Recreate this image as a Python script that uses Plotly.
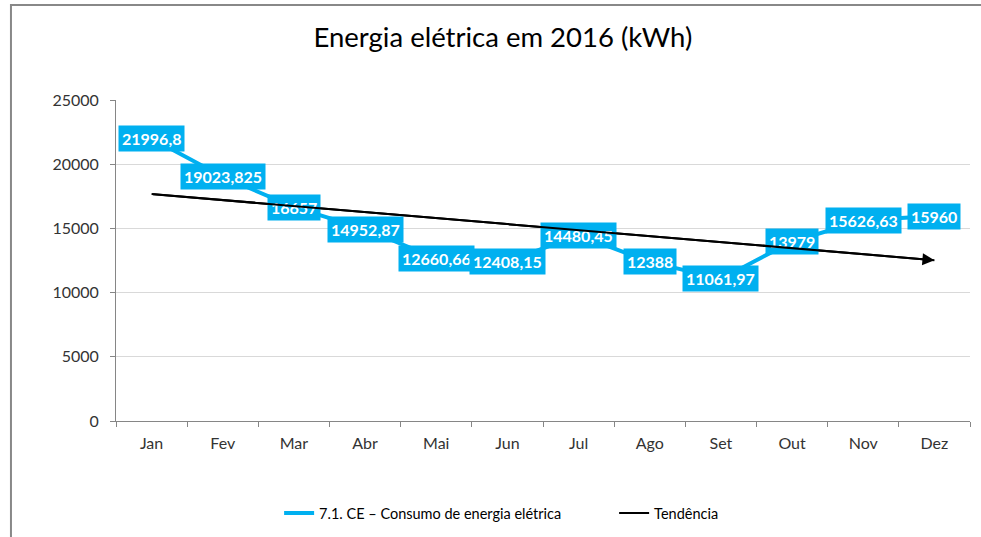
import numpy as np
import plotly.graph_objects as go

months = ["Jan", "Fev", "Mar", "Abr", "Mai", "Jun", "Jul", "Ago", "Set", "Out", "Nov", "Dez"]
consumo = [21996.8, 19023.825, 16657, 14952.87, 12660.66, 12408.15,
           14480.45, 12388, 11061.97, 13979, 15626.63, 15960]
y_ticks = [0, 5000, 10000, 15000, 20000, 25000]
y_tick_labels = ["0", "5000", "10000", "15000", "20000", "25000"]

series_name = "7.1. CE – Consumo de energia elétrica"
trend_name = "Tendência"
title_text = "Energia elétrica em 2016 (kWh)"

BLUE = "#00B0F0"
FONT = "Lato"

idx = np.arange(len(months))
slope, intercept = np.polyfit(idx + 1, consumo, 1)
trend = slope * (idx + 1) + intercept


def fmt(v):
    s = f"{v:.3f}".rstrip("0").rstrip(".")
    return s.replace(".", ",")


fig = go.Figure()
fig.add_trace(go.Scatter(x=months, y=consumo, mode="lines", name=series_name,
                         line=dict(color=BLUE, width=4)))
fig.add_trace(go.Scatter(x=months, y=list(trend), mode="lines", name=trend_name,
                         line=dict(color="black", width=2)))

annotations = []
for m, v in zip(months, consumo):
    annotations.append(dict(x=m, y=v, xref="x", yref="y", text=f"<b>{fmt(v)}</b>",
                            showarrow=False, bgcolor=BLUE, borderpad=3,
                            font=dict(family=FONT, size=16, color="white")))
# trend arrow drawn on top of labels
annotations.append(dict(x=int(idx[-1]), y=float(trend[-1]), xref="x", yref="y",
                        ax=int(idx[0]), ay=float(trend[0]), axref="x", ayref="y",
                        text="", showarrow=True, arrowhead=2, arrowsize=1.2,
                        arrowwidth=2, arrowcolor="black", standoff=0))

fig.update_layout(
    width=981, height=537,
    margin=dict(l=116, r=11, t=100, b=116, autoexpand=False),
    paper_bgcolor="white", plot_bgcolor="white",
    title=dict(text=title_text, x=0.453, xref="paper", xanchor="center",
               y=1 - 37 / 537, yanchor="middle", yref="container",
               font=dict(family=FONT, size=27.5, color="#000000")),
    font=dict(family=FONT, size=14, color="#333333"),
    showlegend=True,
    legend=dict(orientation="h", x=0.191, xanchor="left", y=-0.287, yanchor="middle",
                font=dict(family=FONT, size=14.5, color="#000000"), entrywidth=290,
                bgcolor="rgba(0,0,0,0)"),
    annotations=annotations,
    shapes=[dict(type="rect", xref="paper", yref="paper", x0=-0.123, x1=1.05,
                 y0=-0.4, y1=1.296, line=dict(color="#888888", width=2),
                 fillcolor="rgba(0,0,0,0)", layer="below")],
)
fig.update_xaxes(type="category", range=[-0.5, 11.5], showgrid=False, automargin=False,
                 showline=True, linecolor="#868686", linewidth=1,
                 ticks="outside", tickson="boundaries", ticklen=5, tickcolor="#868686",
                 ticklabelstandoff=8,
                 tickfont=dict(family=FONT, size=16, color="#333333"))
fig.update_yaxes(range=[0, 25000], tickvals=y_ticks, ticktext=y_tick_labels,
                 showgrid=True, gridcolor="#D9D9D9", automargin=False,
                 showline=True, linecolor="#868686", linewidth=1, zeroline=False,
                 ticks="outside", ticklen=5, tickcolor="#868686",
                 ticklabelstandoff=8,
                 tickfont=dict(family=FONT, size=16, color="#333333"))

fig.write_html("out.html", config={"displayModeBar": False},
               post_script="document.body.style.margin='0';")
